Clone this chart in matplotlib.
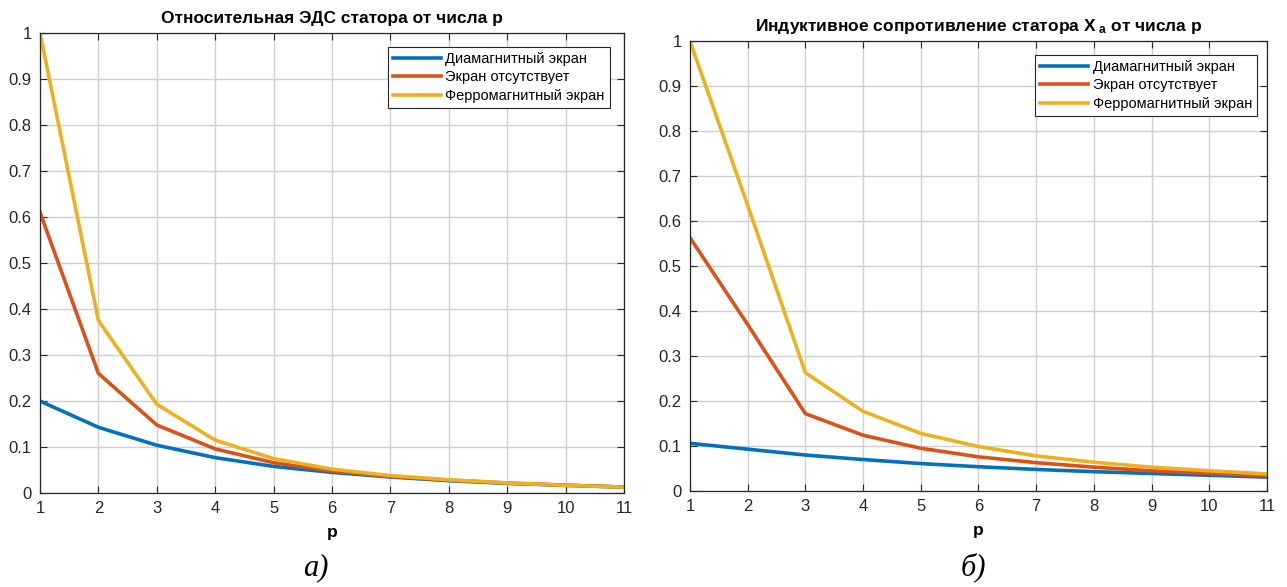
import matplotlib.pyplot as plt

p = [1, 2, 3, 4, 5, 6, 7, 8, 9, 10, 11]

# левый график: относительная ЭДС
emf_dia = [0.200, 0.143, 0.104, 0.077, 0.058, 0.045, 0.035, 0.027, 0.021, 0.017, 0.013]
emf_none = [0.610, 0.260, 0.148, 0.096, 0.066, 0.048, 0.036, 0.028, 0.022, 0.017, 0.013]
emf_ferro = [1.000, 0.375, 0.193, 0.115, 0.075, 0.052, 0.038, 0.029, 0.022, 0.017, 0.013]

# правый график: индуктивное сопротивление
xa_dia = [0.106, 0.093, 0.080, 0.070, 0.061, 0.054, 0.048, 0.043, 0.039, 0.035, 0.031]
xa_none = [0.563, 0.370, 0.172, 0.124, 0.095, 0.076, 0.063, 0.053, 0.045, 0.039, 0.034]
xa_ferro = [1.000, 0.635, 0.263, 0.177, 0.128, 0.099, 0.078, 0.064, 0.053, 0.045, 0.038]

labels = ['Диамагнитный экран', 'Экран отсутствует', 'Ферромагнитный экран']
colors = ['#0072BD', '#D95319', '#EDB120']
titles = ['Относительная ЭДС статора от числа p',
          'Индуктивное сопротивление статора X$_{\\ \\mathrm{a}}$ от числа p']
captions = ['а)', 'б)']

plt.rcParams['font.family'] = ['Liberation Sans', 'DejaVu Sans']
plt.rcParams['mathtext.fontset'] = 'custom'
plt.rcParams['mathtext.rm'] = 'Liberation Sans:bold'
plt.rcParams['mathtext.it'] = 'Liberation Sans:bold'

fig = plt.figure(figsize=(12.87, 5.87), dpi=100)
ax1 = fig.add_axes([0.0311, 0.160, 0.4537, 0.7838])
ax2 = fig.add_axes([0.5361, 0.1635, 0.4483, 0.7666])

data = [(emf_dia, emf_none, emf_ferro), (xa_dia, xa_none, xa_ferro)]
anchors = [(0.976, 0.970), (0.983, 0.969)]
cap_x = [0.2455, 0.756]

for ax, series, title, cap, anc, cx in zip([ax1, ax2], data, titles, captions, anchors, cap_x):
    for ys, lab, c in zip(series, labels, colors):
        ax.plot(p, ys, color=c, lw=2.6, label=lab)
    ax.set_xlim(1, 11)
    ax.set_ylim(0, 1)
    ax.set_xticks(range(1, 12))
    ax.set_yticks([i / 10 for i in range(11)])
    ax.set_yticklabels(['0'] + ['%.1f' % (i / 10) for i in range(1, 10)] + ['1'])
    ax.grid(True, color='#cfcfcf', lw=1.0)
    ax.tick_params(direction='in', top=True, right=True, labelsize=12,
                   length=5, colors='#262626', pad=6)
    for s in ax.spines.values():
        s.set_color('#262626')
        s.set_linewidth(0.9)
    ax.set_title(title, fontsize=12.5, fontweight='bold', pad=7)
    ax.set_xlabel('p', fontsize=12.5, fontweight='bold', labelpad=6)
    leg = ax.legend(loc='upper right', bbox_to_anchor=anc, borderaxespad=0,
                    fontsize=10.5, fancybox=False, framealpha=1, handlelength=3.3,
                    handletextpad=0.3, labelspacing=0.3, borderpad=0.35)
    leg.get_frame().set_edgecolor('#262626')
    leg.get_frame().set_linewidth(0.8)
    fig.text(cx, 0.033, cap, ha='center', va='center',
             fontsize=22, fontstyle='italic', family=['Liberation Serif'])

fig.savefig('out.png', dpi=100)
